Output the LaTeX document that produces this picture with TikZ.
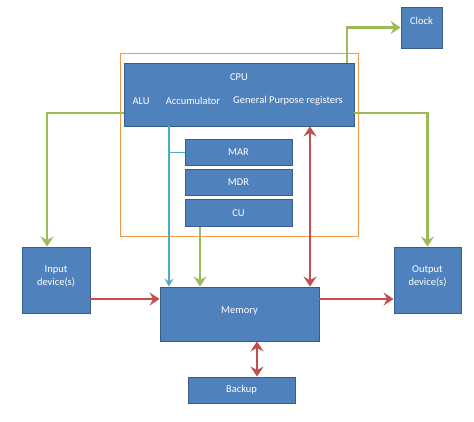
\documentclass[tikz,border=0pt]{standalone}
\usepackage{fontspec}
\setmainfont{Carlito}
\usetikzlibrary{arrows.meta}
\definecolor{boxblue}{HTML}{4F81BD}
\definecolor{boxedge}{HTML}{385D8A}
\definecolor{linkgreen}{HTML}{9BBB59}
\definecolor{linkred}{HTML}{C0504D}
\definecolor{linkcyan}{HTML}{4BACC6}
\definecolor{frameorange}{HTML}{F79646}
\tikzstyle{block} = [rectangle, draw=boxedge, fill=boxblue, line width=0.8pt, text=white, align=center, inner sep=0pt, font=\fontsize{10.5}{13}\selectfont]
\tikzstyle{caption} = [text=white, inner sep=0pt, font=\fontsize{10.5}{13}\selectfont]
\tikzstyle{greenarrow} = [draw=linkgreen, line width=2.8pt, -{Stealth[length=10pt,width=13pt,inset=3.5pt]}]
\tikzstyle{redarrow} = [draw=linkred, line width=2.4pt, -{Stealth[length=10pt,width=13pt,inset=3.5pt]}]
\tikzstyle{reddouble} = [draw=linkred, line width=2.4pt, {Stealth[length=10pt,width=13pt,inset=3.5pt]}-{Stealth[length=10pt,width=13pt,inset=3.5pt]}]
\tikzstyle{cyanarrow} = [draw=linkcyan, line width=1.4pt, -{Stealth[length=8pt,width=9pt,inset=3pt]}]

\begin{document}
\begin{tikzpicture}[x=1pt, y=-1pt]
  \useasboundingbox (0,0) rectangle (474,422);

  \node (frame) [rectangle, draw=frameorange, line width=1pt, minimum width=238pt, minimum height=183pt] at (239,145.5) {};
  \node (cpu) [block, minimum width=230pt, minimum height=63pt] at (239,94.5) {};
  \node (cpulabel) [caption] at (239,77) {CPU};
  \node (alu) [caption] at (141,101) {ALU};
  \node (acc) [caption] at (193,101) {Accumulator};
  \node (gpr) [caption] at (288,101) {General Purpose registers};
  \node (mar) [block, minimum width=107pt, minimum height=26pt] at (238.5,152.5) {MAR};
  \node (mdr) [block, minimum width=107pt, minimum height=26pt] at (238.5,182.5) {MDR};
  \node (cu) [block, minimum width=107pt, minimum height=27pt] at (238.5,213) {CU};
  \node (memory) [block, minimum width=159pt, minimum height=54pt, text depth=8pt] at (239.5,314) {Memory};
  \node (input) [block, minimum width=68pt, minimum height=66pt, text depth=8pt] at (56,280) {Input\\device(s)};
  \node (output) [block, minimum width=67pt, minimum height=66pt, text depth=8pt] at (427.5,280) {Output\\device(s)};
  \node (backup) [block, minimum width=107pt, minimum height=26pt] at (241.5,390) {Backup};
  \node (clock) [block, minimum width=41pt, minimum height=41pt, text depth=14pt] at (421.5,27.5) {Clock};

  % columns of the vertical links
  \coordinate (cyanx) at (169,0);
  \coordinate (greenx) at (200,0);
  \coordinate (redx) at (310,0);
  \coordinate (backx) at (257,0);
  \coordinate (clockx) at (347,0);
  \coordinate (inx) at (47,0);

  \draw [greenarrow] (cpu.north -| clockx) |- (clock.west);
  \draw [greenarrow] ([yshift=-18.5pt]cpu.west) -| (input.north -| inx);
  \draw [greenarrow] ([yshift=-18.5pt]cpu.east) -| (output.north);
  \draw [cyanarrow] (cpu.south -| cyanx) -- (memory.north -| cyanx);
  \draw [draw=linkcyan, line width=1.4pt] (mar.west) -- (mar.west -| cyanx);
  \draw [greenarrow] (cu.south -| greenx) -- (memory.north -| greenx);
  \draw [reddouble] (cpu.south -| redx) -- (memory.north -| redx);
  \draw [redarrow] ([yshift=-19pt]input.east) -- ([yshift=-19pt]input.east -| memory.west);
  \draw [redarrow] ([yshift=15pt]memory.east) -- ([yshift=15pt]memory.east -| output.west);
  \draw [reddouble] (memory.south -| backx) -- (backup.north -| backx);

\end{tikzpicture}
\end{document}
